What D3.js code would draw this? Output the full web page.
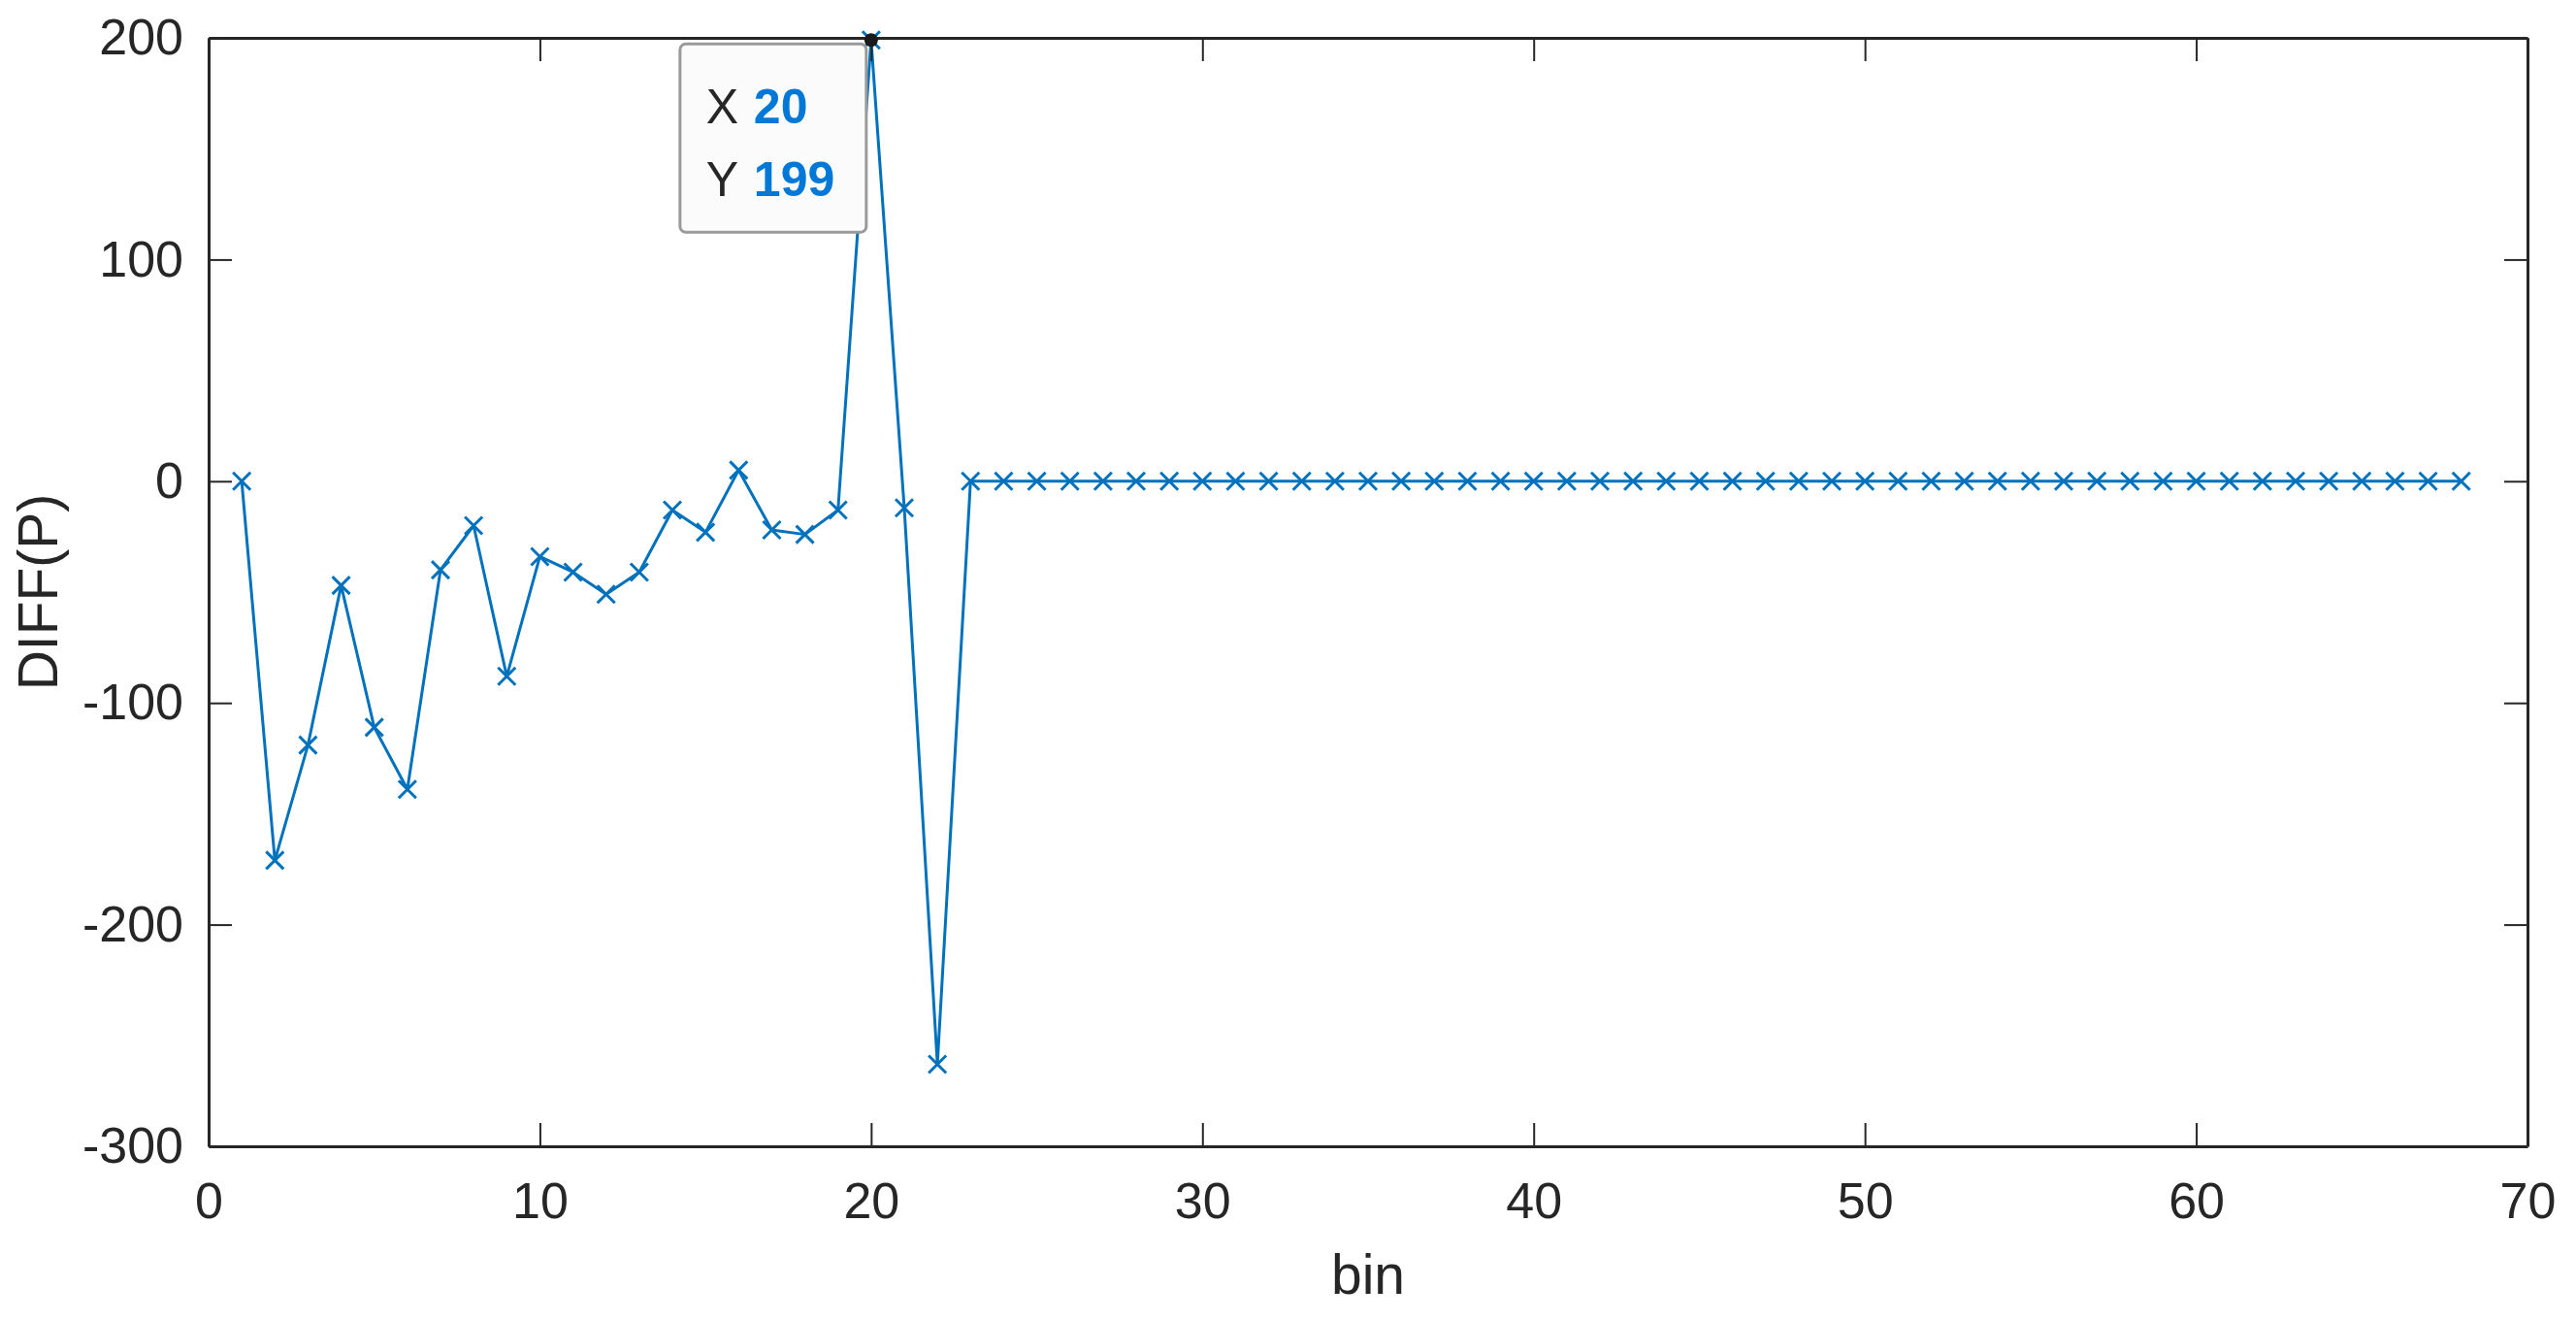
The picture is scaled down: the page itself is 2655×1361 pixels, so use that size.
<!DOCTYPE html>
<html>
<head>
<meta charset="utf-8">
<script src="https://cdn.jsdelivr.net/npm/d3@7"></script>
<style>
  html, body { margin: 0; padding: 0; background: #fff; }
  svg { display: block; font-family: "Liberation Sans", Arial, Helvetica, sans-serif; }
</style>
</head>
<body>
<div id="chart"></div>
<script>

// data
var diffValues = [0, -171, -119, -47, -111, -139, -40, -20, -88, -34,
  -41, -51, -41, -13, -23, 5, -22, -24, -13, 199,
  -12, -263, 0, 0, 0, 0, 0, 0, 0, 0,
  0, 0, 0, 0, 0, 0, 0, 0, 0, 0,
  0, 0, 0, 0, 0, 0, 0, 0, 0, 0,
  0, 0, 0, 0, 0, 0, 0, 0, 0, 0,
  0, 0, 0, 0, 0, 0, 0, 0];
var xTicks = [0, 10, 20, 30, 40, 50, 60, 70];
var yTicks = [-300, -200, -100, 0, 100, 200];
var tipBin = 20;
var tipValue = 199;

var W = 2655, H = 1361;
var margin = {top: 39, right: 50, bottom: 180, left: 215};
var width = 2605 - margin.left,
    height = 1181 - margin.top;

var axisColor = "#262626";
var lineColor = "#0072BD";

var svg = d3.select("#chart").append("svg")
  .attr("width", W)
  .attr("height", H);

var g = svg.append("g")
  .attr("transform", "translate(" + margin.left + "," + margin.top + ")");

var x = d3.scaleLinear().domain([0, 70]).range([0, width]);
var y = d3.scaleLinear().domain([-300, 200]).range([height, 0]);

var points = diffValues.map(function(v, i) { return {bin: i + 1, value: v}; });

// line
g.append("path")
  .datum(points)
  .attr("fill", "none")
  .attr("stroke", lineColor)
  .attr("stroke-width", 3)
  .attr("stroke-linejoin", "round")
  .attr("d", d3.line()
    .x(function(d) { return x(d.bin); })
    .y(function(d) { return y(d.value); }));

// x markers
var ms = 9;
g.selectAll(".mark")
  .data(points)
  .enter()
  .append("path")
    .attr("class", "mark")
    .attr("transform", function(d) { return "translate(" + x(d.bin) + "," + y(d.value) + ")"; })
    .attr("d", "M" + (-ms) + "," + (-ms) + "L" + ms + "," + ms + "M" + (-ms) + "," + ms + "L" + ms + "," + (-ms))
    .attr("stroke", lineColor)
    .attr("stroke-width", 3)
    .attr("fill", "none");

// axes, ticks pointing inwards on all four sides
var tick = 24;
var plain = function(d) { return String(d); };  // hyphen minus like matlab
function styleAxis(sel) {
  sel.select(".domain").attr("stroke", axisColor).attr("stroke-width", 3);
  sel.selectAll(".tick line").attr("stroke", axisColor).attr("stroke-width", 2);
  sel.selectAll(".tick text")
    .attr("fill", axisColor)
    .style("font-size", "52px");
}

g.append("g")
  .attr("transform", "translate(0," + height + ")")
  .call(d3.axisBottom(x).tickValues(xTicks).tickFormat(plain).tickSizeInner(-tick).tickSizeOuter(0).tickPadding(37))
  .call(styleAxis)
  .call(function(a) { a.selectAll(".tick text").attr("dy", "0.71em"); });

g.append("g")
  .call(d3.axisTop(x).tickValues(xTicks).tickSizeInner(-tick).tickSizeOuter(0).tickFormat(""))
  .call(styleAxis);

g.append("g")
  .call(d3.axisLeft(y).tickValues(yTicks).tickFormat(plain).tickSizeInner(-tick).tickSizeOuter(0).tickPadding(26))
  .call(styleAxis);

g.append("g")
  .attr("transform", "translate(" + width + ",0)")
  .call(d3.axisRight(y).tickValues(yTicks).tickSizeInner(-tick).tickSizeOuter(0).tickFormat(""))
  .call(styleAxis);

// axis labels
g.append("text")
  .attr("x", width / 2)
  .attr("y", height + 152)
  .attr("text-anchor", "middle")
  .attr("fill", axisColor)
  .style("font-size", "57px")
  .text("bin");

g.append("text")
  .attr("transform", "translate(" + (59 - margin.left) + "," + (height / 2) + ") rotate(-90)")
  .attr("text-anchor", "middle")
  .attr("fill", axisColor)
  .style("font-size", "57px")
  .text("DIFF(P)");

// data tip
var tx = x(tipBin), ty = y(tipValue);
var tip = g.append("g");
tip.append("rect")
  .attr("x", tx - 197)
  .attr("y", ty + 4)
  .attr("width", 192)
  .attr("height", 194)
  .attr("rx", 6)
  .attr("fill", "#fbfbfb")
  .attr("stroke", "#9a9a9a")
  .attr("stroke-width", 3);

var rows = [["X", tipBin], ["Y", tipValue]];
rows.forEach(function(r, i) {
  var t = tip.append("text")
    .attr("x", tx - 170)
    .attr("y", ty + 86 + i * 75)
    .style("font-size", "50px");
  t.append("tspan").attr("fill", axisColor).text(r[0]);
  t.append("tspan").attr("x", tx - 121).attr("fill", "#0078d7").attr("font-weight", "bold").text(r[1]);
});

g.append("circle")
  .attr("cx", tx)
  .attr("cy", ty)
  .attr("r", 7)
  .attr("fill", "#1a1a1a");

</script>
</body>
</html>
